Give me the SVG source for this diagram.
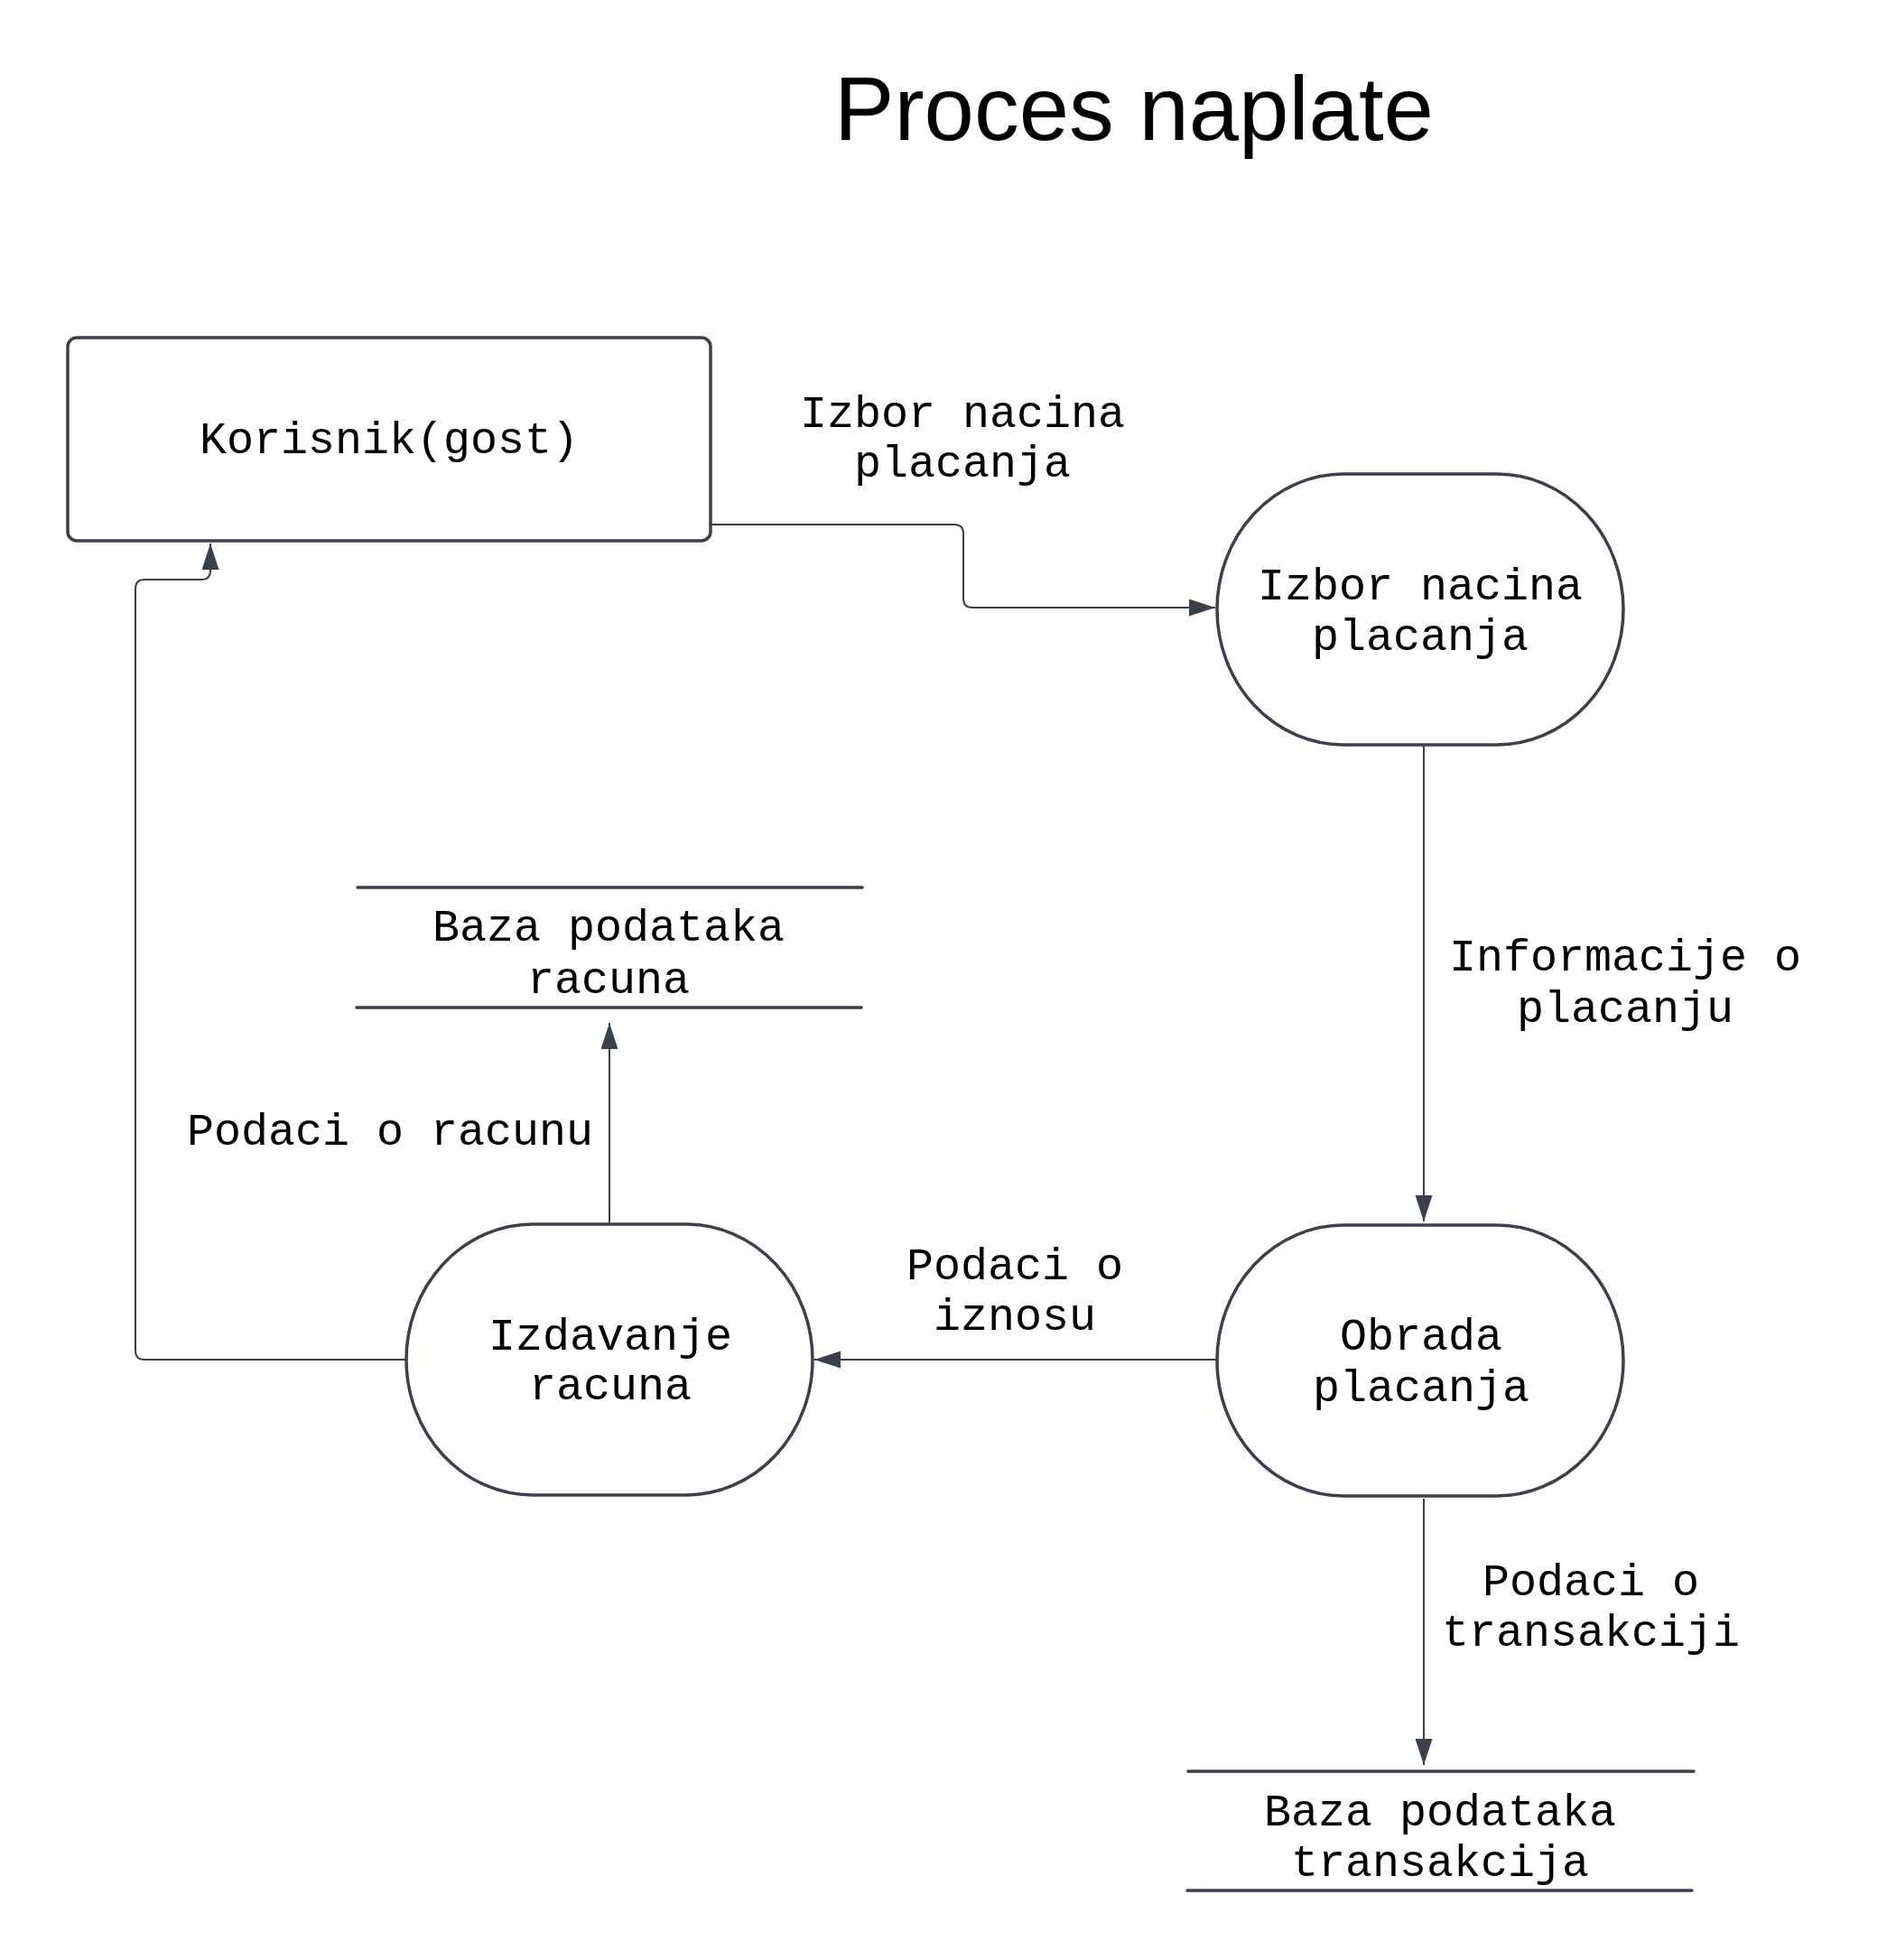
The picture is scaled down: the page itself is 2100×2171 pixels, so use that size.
<svg xmlns="http://www.w3.org/2000/svg" width="2100" height="2171" viewBox="0 0 2100 2171">
<style>
.node{fill:#ffffff;stroke:#3a414a;stroke-width:3.5}
.store{stroke:#3a414a;stroke-width:3.5;stroke-linecap:round}
.conn{fill:none;stroke:#3a414a;stroke-width:2}
.t{font-family:"Liberation Mono","DejaVu Sans Mono",monospace;font-size:50px;fill:#000000;text-anchor:middle}
.title{font-family:"Liberation Sans",Arial,sans-serif;font-size:99.5px;fill:#000000;text-anchor:middle}
</style>
<defs>
<marker id="arr" markerUnits="userSpaceOnUse" markerWidth="30" markerHeight="20" refX="29" refY="9.5" orient="auto">
<path d="M0,0 L29,9.5 L0,19 Z" fill="#3a414a"/>
</marker>
</defs>
<rect width="2100" height="2171" fill="#ffffff"/>
<text class="title" x="1256" y="155">Proces naplate</text>

<g id="connectors">
<path class="conn" marker-end="url(#arr)" d="M787,581 L1057,581 Q1067,581 1067,591 L1067,663 Q1067,673 1077,673 L1346,673"/>
<path class="conn" marker-end="url(#arr)" d="M1577,826 L1577,1353"/>
<path class="conn" marker-end="url(#arr)" d="M1347,1506 L902,1506"/>
<path class="conn" marker-end="url(#arr)" d="M1577,1660 L1577,1955"/>
<path class="conn" marker-end="url(#arr)" d="M675,1355 L675,1133"/>
<path class="conn" marker-end="url(#arr)" d="M449,1506 L160,1506 Q150,1506 150,1496 L150,652 Q150,642 160,642 L223,642 Q233,642 233,632 L233,602"/>
<text class="t" x="1066" y="473">Izbor nacina</text>
<text class="t" x="1066" y="528">placanja</text>
<text class="t" x="1800" y="1075">Informacije o</text>
<text class="t" x="1800" y="1132">placanju</text>
<text class="t" x="432" y="1268">Podaci o racunu</text>
<text class="t" x="1124" y="1417">Podaci o</text>
<text class="t" x="1124" y="1473">iznosu</text>
<text class="t" x="1762" y="1767">Podaci o</text>
<text class="t" x="1762" y="1823">transakciji</text>
</g>

<g id="korisnik">
<rect class="node" x="75" y="374" width="712" height="225" rx="10" ry="10"/>
<text class="t" x="431" y="502">Korisnik(gost)</text>
</g>

<g id="izbor">
<rect class="node" x="1348" y="525" width="450" height="300" rx="140" ry="150"/>
<text class="t" x="1573" y="664">Izbor nacina</text>
<text class="t" x="1573" y="720">placanja</text>
</g>

<g id="obrada">
<rect class="node" x="1348" y="1357" width="450" height="300" rx="140" ry="150"/>
<text class="t" x="1574" y="1495">Obrada</text>
<text class="t" x="1574" y="1552">placanja</text>
</g>

<g id="izdavanje">
<rect class="node" x="450" y="1356" width="450" height="300" rx="140" ry="150"/>
<text class="t" x="676" y="1495">Izdavanje</text>
<text class="t" x="676" y="1550">racuna</text>
</g>

<g id="baza-racuna">
<line class="store" x1="396" y1="983" x2="955" y2="983"/>
<line class="store" x1="395" y1="1116" x2="954" y2="1116"/>
<text class="t" x="674" y="1042">Baza podataka</text>
<text class="t" x="674" y="1100">racuna</text>
</g>

<g id="baza-transakcija">
<line class="store" x1="1316" y1="1962" x2="1876" y2="1962"/>
<line class="store" x1="1315" y1="2094" x2="1874" y2="2094"/>
<text class="t" x="1595" y="2022">Baza podataka</text>
<text class="t" x="1595" y="2078">transakcija</text>
</g>
</svg>
